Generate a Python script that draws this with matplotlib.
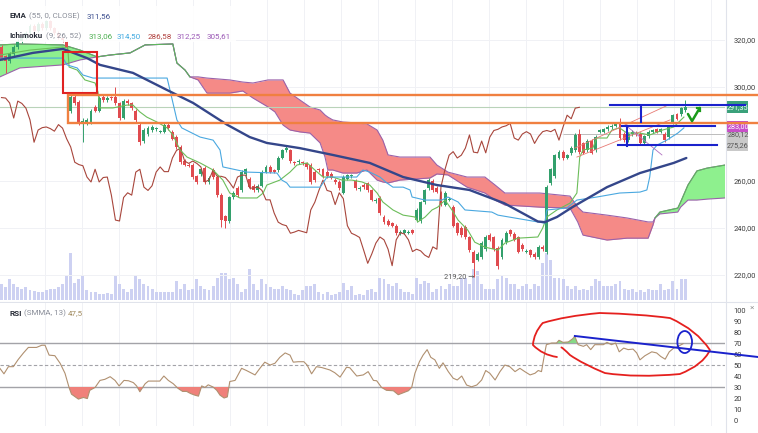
import numpy as np
import matplotlib
matplotlib.use("Agg")
import matplotlib.pyplot as plt
from matplotlib.patches import Rectangle, Ellipse, PathPatch
from matplotlib.path import Path

plt.rcParams['font.family'] = ['Roboto', 'DejaVu Sans']

# ---------------------------------------------------------------- data
opens = [317, 313, 311, 314, 317, 319.5, 321, 323, 326, 324,
         327, 325, 328, 325, 323, 321, 319, 290, 295.7, 293.6,
         285, 284.7, 285, 291.5, 290, 295.7, 294.5, 295.5, 295.7, 293,
         287, 294, 293, 290, 284, 277, 280, 281.5, 282, 281,
         281, 284, 281, 278.7, 274.5, 268.5, 267, 266.8, 262, 263,
         265.5, 259.6, 264.7, 261.7, 254, 245, 243, 253, 257, 256,
         263, 261, 258, 256, 258, 264, 266, 264.5, 264.5, 270,
         273, 273, 268, 268, 268, 267.5, 267, 264, 265, 265,
         264, 263, 260.5, 259.6, 255, 261, 262, 260, 256.5, 258.5,
         259, 256, 251.5, 252.8, 244.7, 243, 242, 241, 237.8, 238,
         238, 239, 243.4, 243, 251, 257, 260, 257, 255, 250,
         252, 249, 242, 240, 240.4, 236, 230, 226.5, 227.7, 231,
         237, 236, 231.5, 227.7, 234, 239, 237.5, 236, 233, 230,
         230.6, 229, 227.7, 232, 230, 259, 262, 270, 272.3, 270,
         271.9, 273.2, 280, 276, 273, 277, 273, 281, 281, 282,
         283, 283.5, 285, 280, 277.5, 280, 280.5, 280, 276, 279,
         281, 282, 281, 280, 278.7, 285, 288.4, 288.4, 290.2]
closes = [312, 311, 314, 317, 319.5, 321, 323, 326, 324, 327,
          325, 328, 325, 323, 321, 320, 316.6, 295.7, 293, 284.7,
          285.5, 286, 290, 290, 295.3, 294.5, 295.5, 295.3, 293.2, 286.8,
          294, 293, 291, 286, 276.5, 281.7, 282.7, 283, 282.3, 281.2,
          284, 282.5, 278, 274.5, 268, 267, 266.5, 261.7, 259.6, 265,
          259.6, 261.5, 261.7, 254, 243.4, 243, 253, 255, 254, 263.8,
          265, 257.4, 256, 258, 263.8, 266, 264, 264, 269.8, 273,
          274, 268.5, 267.5, 268.5, 267.5, 266, 259.6, 260.5, 264.7, 262,
          262, 261.5, 259.5, 257, 261.7, 262.5, 262.5, 257, 257, 257.5,
          256, 252, 252, 246.4, 242.5, 241.5, 241, 237.8, 238.3, 239,
          238.5, 238, 247.7, 251, 256, 260.4, 256, 255.5, 250, 255,
          252.5, 241, 237.8, 237, 236, 230.6, 225, 229, 233.6, 236.2,
          235, 231, 224, 235, 238, 237.5, 235, 230, 231, 230.3,
          228.5, 227.5, 232, 231, 257.5, 265, 271, 272.5, 269.8, 271,
          274, 279.6, 272.3, 272, 277, 272, 278.7, 281.5, 282, 283,
          283.5, 284.5, 278.3, 277.4, 280, 281, 280, 276, 279, 281,
          281.5, 281, 282, 277.4, 283, 288, 286.5, 291, 291.35]
wick_high = {16: 319.5, 17: 296.5, 20: 287.0, 28: 300.0, 134: 258.5,
             142: 282.0, 152: 287.0, 168: 294.5}
wick_low = {1: 306.0, 17: 289.0, 20: 276.6, 34: 275.5, 54: 240.5, 55: 240.0,
            116: 219.2, 122: 222.5, 134: 229.0}
volumes = [15, 12, 20, 15, 12, 11, 12, 10, 9, 8,
           8, 10, 11, 11, 12, 15, 23, 45, 16, 20,
           23, 10, 8, 8, 6, 6, 7, 6, 23, 15,
           11, 8, 11, 23, 20, 15, 13, 11, 8, 8,
           8, 8, 8, 18, 11, 15, 10, 11, 20, 13,
           11, 10, 13, 21, 26, 26, 20, 21, 15, 8,
           11, 30, 15, 10, 20, 15, 12, 11, 11, 13,
           11, 10, 6, 5, 10, 13, 13, 15, 8, 6,
           8, 5, 6, 8, 16, 10, 13, 5, 6, 5,
           10, 11, 8, 21, 20, 15, 13, 16, 11, 8,
           8, 6, 21, 15, 18, 16, 8, 11, 13, 11,
           15, 13, 13, 21, 21, 15, 30, 28, 15, 11,
           11, 11, 20, 23, 21, 15, 15, 11, 13, 15,
           11, 15, 13, 35, 45, 38, 21, 21, 20, 13,
           11, 13, 10, 11, 10, 13, 20, 18, 13, 13,
           13, 15, 18, 11, 10, 11, 8, 10, 8, 11,
           10, 10, 15, 10, 11, 18, 11, 20, 20]

ema_bar = [-0.4, 7.7, 15.1, 21, 24.2, 32.3, 40.7, 47.1, 55.4, 61, 65.2, 73.3, 81.4,
           90.5, 98.7, 107, 115, 123.5, 131.8, 133.5, 136.5, 140.4, 148.8, 156.9, 165.2, 168.3]
ema_val = [311.5, 314.5, 316.2, 312.3, 309.4, 306.0, 298.7, 293.2, 284.0, 278.7, 276.2, 274.0, 271.1,
           267.7, 261.7, 258.3, 256.2, 250.6, 242.8, 242.5, 244.7, 249.0, 257.4, 263.4, 267.7, 269.8]

tenkan_bar = [-0.4, 7, 15, 16.3, 16.6, 18.6, 20.5, 23, 23.7, 24.2,
              27.4, 30.8, 32.3, 34, 35.7, 38.2, 40.7, 42.1, 43.9, 45.6,
              48.8, 52, 54.4, 56.1, 58.6, 62.8, 64.3, 65.2, 68.4, 70.9,
              72.6, 75.1, 77, 79, 81.4, 83.7, 86.1, 88.6, 90.5, 92.3,
              93.7, 96.2, 98.7, 101.6, 102.3, 104.1, 105.8, 107.2, 109, 110.7,
              112.2, 114.6, 116.3, 118.8, 122, 123.7, 126.9, 131.8, 133, 134,
              136.5, 139.7, 141.4, 142.1, 142.9, 145.3, 146.3, 148.8, 150, 151.9,
              153.7, 156.9, 159.3, 162.5, 165.2, 167.7]
tenkan_val = [313.6, 315.7, 317.0, 316.6, 308.5, 307.2, 303.0, 301.7, 297.9, 291.1,
              291.1, 292.3, 292.3, 289.4, 287.2, 285.1, 282.6, 279.6, 273.2, 270.2,
              267.7, 264.7, 260.4, 254.9, 252.8, 252.8, 254.9, 258.3, 260.4, 263.8,
              266.8, 267.7, 264.7, 261.7, 261.7, 260.4, 260.4, 259.6, 258.3, 254.9,
              251.1, 247.7, 245.5, 244.7, 242.6, 244.7, 247.7, 248.9, 251.9, 247.7,
              243.4, 239.1, 234.0, 231.9, 230.6, 233.6, 235.7, 236.2, 240.0, 244.7,
              247.7, 250.6, 254.9, 270.2, 273.2, 274.0, 278.3, 278.3, 281.7, 282.6,
              280.4, 280.4, 279.6, 281.7, 283.0, 287.2]

kijun_bar = [-0.4, 15.1, 16.1, 18.6, 20, 22.5, 40.7, 41.4, 43.1, 44.3,
             48.8, 52, 53.7, 54.4, 60.3, 67.7, 68.9, 70.1, 70.9, 78.3,
             80, 87.3, 88.8, 90.5, 93, 94.7, 96.2, 98.7, 100.4, 100.9,
             104.1, 108.2, 109.7, 112.2, 113.9, 120.5, 122, 131.8, 133.5, 134,
             138.9, 141.4, 146.3, 151.9, 156.9, 158.6, 159.3, 160.1, 161.1, 163.5,
             166.2, 167.7]
kijun_val = [312.3, 312.3, 309.4, 308.1, 305.1, 303.8, 303.8, 298.7, 286.0, 282.6,
             278.7, 277.4, 273.2, 266.0, 263.8, 263.4, 260.4, 259.2, 257.4, 257.4,
             261.7, 261.7, 264.7, 263.8, 261.7, 259.2, 257.4, 257.4, 256.2, 253.2,
             251.9, 251.9, 253.2, 251.1, 247.7, 246.8, 245.5, 242.6, 242.1, 247.7,
             248.5, 251.9, 253.2, 254.9, 255.3, 256.2, 261.7, 273.2, 275.3, 277.4,
             280.4, 282.6]

cloud_bar = [-0.4, 4.5, 15.1, 19.3, 23.5, 26.7, 31.6, 35.3, 42.1, 43.1,
             45.1, 46.3, 48.3, 50.5, 56.1, 59.3, 61.8, 65.5, 67.2, 69.2,
             70.9, 73.3, 75.8, 78.3, 79.5, 80.2, 81.4, 83.9, 87.3, 89.8,
             92.3, 93.7, 95.0, 97.9, 105.3, 107.0, 109.7, 114.4, 118.8, 121.3,
             123.7, 132.3, 139.7, 141.6, 142.9, 148.8, 153.7, 158.9, 160.1, 160.6,
             161.8, 166.2, 166.9, 168.7, 170.9, 173.4, 177.8]
span_a = [317.9, 318.3, 317.9, 315.7, 312.8, 313.6, 314.5, 317.9, 318.3, 310.2,
          307.2, 304.3, 303.0, 297.4, 297.4, 298.3, 295.3, 291.5, 289.4, 283.8,
          281.7, 280.9, 280.4, 276.2, 270.2, 264.7, 264.7, 263.4, 263.4, 264.7,
          260.4, 259.6, 259.2, 260.4, 261.3, 263.0, 262.6, 257.4, 254.9, 251.9,
          249.8, 248.9, 248.5, 242.6, 237.0, 234.9, 235.7, 235.7, 241.3, 244.3,
          246.8, 248.5, 251.1, 258.3, 264.3, 265.5, 266.8]
span_b = [304.3, 308.1, 309.4, 311.5, 312.8, 313.6, 314.5, 317.9, 318.3, 310.2,
          307.2, 304.3, 304.3, 303.8, 303.0, 302.1, 301.7, 303.0, 303.0, 303.0,
          297.4, 294.5, 291.5, 290.2, 288.1, 287.2, 286.0, 285.1, 284.7, 284.3,
          281.7, 277.4, 271.1, 270.2, 270.2, 266.8, 263.8, 261.7, 261.7, 258.3,
          254.9, 254.9, 253.6, 248.9, 246.8, 245.5, 244.3, 242.6, 242.6, 244.3,
          246.0, 246.8, 248.9, 251.9, 251.9, 252.3, 252.8]
chikou_shift = 26

rsi_bar = [-0.4, 0.6, 1.7, 2.9, 4.1, 5.4, 6.6, 8.6, 9.9, 10.7,
           11.7, 13.1, 14.4, 15.6, 16.6, 17.2, 18.9, 20.1, 21.1, 21.7,
           23.0, 24.2, 25.4, 26.7, 27.9, 28.9, 30.1, 31.2, 32.4, 33.2,
           34.0, 35.3, 36.1, 37.3, 38.9, 39.9, 41.0, 42.2, 43.4, 44.5,
           45.5, 46.5, 47.5, 48.4, 49.2, 50.0, 50.8, 52.0, 52.9, 53.7,
           54.7, 55.5, 56.1, 57.4, 59.0, 60.2, 62.3, 63.5, 64.7, 66.0,
           67.2, 68.4, 69.7, 70.9, 71.7, 72.9, 74.3, 75.1, 76.2, 77.4,
           78.7, 80.7, 81.9, 83.2, 84.8, 85.6, 87.3, 88.9, 90.1, 91.4,
           92.2, 93.4, 94.6, 96.3, 97.5, 98.7, 100.0, 100.8, 101.6, 102.7,
           103.6, 104.6, 105.5, 106.5, 107.6, 108.5, 109.8, 111.0, 112.0, 113.1,
           114.3, 115.5, 116.8, 118.0, 119.0, 120.0, 121.3, 122.5, 123.7, 124.9,
           126.2, 127.4, 128.6, 129.9, 131.1, 131.9, 132.7, 133.5, 133.9, 135.2,
           136.4, 137.0, 138.0, 139.3, 140.3, 140.9, 141.7, 143.0, 143.8, 144.8,
           145.8, 147.9, 148.8, 149.9, 150.9, 151.8, 152.9, 154.0, 155.2, 156.1,
           156.9, 158.1, 159.8, 161.0, 162.0, 163.1, 164.1, 165.2, 166.3, 167.5]
rsi_val = [47, 42, 48.5, 48.5, 55, 61, 66, 66, 68, 68,
           59, 58.5, 51.6, 42.5, 29.6, 23.5, 19, 20.5, 19.5, 27,
           29.6, 36, 37, 39.4, 36, 31, 36, 35.7, 34, 31,
           25.7, 33, 35.4, 35.4, 35.4, 40, 36, 33, 28.7, 26,
           26, 24, 22.6, 21.7, 31, 29.6, 32, 30, 27, 22.6,
           20, 21, 35, 36, 47, 45, 41, 47, 52.6, 50,
           51.6, 57, 61, 59, 52.6, 53, 53, 50, 42, 48.5,
           47.7, 45.5, 43, 39, 48, 47.5, 40, 41, 44, 36,
           35.7, 29.6, 27, 26.6, 23, 24.7, 26.6, 29.6, 42.5, 53,
           59, 64, 57, 54.7, 47, 52, 44, 38, 36.4, 40,
           31.8, 30.2, 31.8, 36.4, 45, 42.5, 36.4, 44, 50, 48.5,
           44, 47, 44, 41, 42.5, 45, 44, 61, 68.5, 70,
           70, 72.5, 70.6, 71, 73.7, 76, 68.5, 67, 68.5, 64,
           68.5, 68.5, 70.6, 68.5, 70, 62, 65.4, 64, 64.5, 61,
           54.7, 58.4, 62, 61, 57.8, 55.3, 62, 65.4, 67, 69.4]

price_ticks = [220, 240, 260, 300, 320]
price_tick_labels = ['220,00', '240,00', '260,00', '300,00', '320,00']
grid_prices = [220, 240, 260, 280, 300, 320]
rsi_ticks = [0, 10, 20, 30, 40, 50, 60, 70, 80, 90, 100]
rsi_levels = [30, 50, 70]
tag_last = (291.35, '291,35')
tag_magenta = (283.00, '283,00')
tag_grey = [(280.12, '280,12'), (275.26, '275,26')]
low_label = (219.20, '219,20 →')

legend_ema = ['EMA', '(55, 0, CLOSE)', '311,56']
legend_ichi = ['Ichimoku', '(9, 26, 52)', '313,06', '314,50', '286,58', '312,25', '305,61']
legend_rsi = ['RSI', '(SMMA, 13)', '47,5']

# hand-drawn annotations (data coordinates)
red_box = ([15.1, 23.5], [297.4, 314.9])
orange_box = ([16.3, 185.9], [284.7, 296.6])
blue_h = [([149.5, 182.7], 292.3), ([152.5, 175.3], 283.4), ([151.5, 175.8], 275.3)]
blue_v = [(157.1, 285.1, 291.9), (153.7, 274.9, 283.4)]
channel_lines = [([140.9, 163.8], [274.0, 292.3]), ([141.4, 164.3], [270.2, 286.0])]
purple_diag = ([153.9, 162.3], [283.0, 271.1])
check_x = [168.7, 169.7, 171.6]
check_y = [288.5, 285.5, 291.1]
rsi_loop_x = [136.5, 133.0, 130.6, 130.8, 133.0, 138.5, 147.0, 156.9, 164.3, 170.9,
              174.1, 172.4, 166.7, 156.1, 148.3, 142.9, 139.7, 138.0, 137.6]
rsi_loop_y = [57.3, 59.1, 68.2, 79.1, 88.2, 94.5, 97.3, 96.4, 92.7, 81.8,
              63.6, 50.0, 41.8, 38.2, 42.7, 50.9, 59.1, 65.5, 66.0]
rsi_blue_line = ([140.9, 185.9], [76.4, 57.3])
rsi_blue_ellipse = (167.9, 70.9, 3.6, 20)

# ---------------------------------------------------------------- styling
W, H = 758, 433
XLIM = (-0.37, 177.8)
PLIM = (209.4, 337.0)
RLIM = (-5.45, 106.4)
UP, DN = '#33a06c', '#e04b4f'
GRID = '#f0f1f5'


def fx(px):
    return px / W


def fy(py):
    return 1 - py / H


fig = plt.figure(figsize=(W / 100, H / 100), dpi=100)
fig.patch.set_facecolor('white')

ax_v = fig.add_axes([0, fy(300), fx(725), 300 / H])
ax = fig.add_axes([0, fy(300), fx(725), 300 / H])
ax_r = fig.add_axes([0, fy(426), fx(725), 123 / H])
ax_v.set_zorder(1)
ax.set_zorder(2)
ax_r.set_zorder(2)
ax.patch.set_visible(False)

for a in (ax_v, ax, ax_r):
    a.set_xlim(*XLIM)
    for s in a.spines.values():
        s.set_visible(False)
    a.set_xticks([])

vgrid = np.arange(10.7, 178, 9.09)
for g in vgrid:
    ax_v.axvline(g, color=GRID, lw=0.7, zorder=0)
    ax_r.axvline(g, color=GRID, lw=0.7, zorder=0)

# ---- volume
xb = np.arange(len(closes))
o = np.array(opens, float)
c = np.array(closes, float)
ax_v.bar(xb, volumes, width=0.72, bottom=0, color='#cdd1f2', linewidth=0, zorder=1)
ax_v.set_ylim(0, 287)
ax_v.set_yticks([])

# ---- main price pane
ax.set_ylim(*PLIM)
for p in grid_prices:
    ax.axhline(p, color=GRID, lw=0.7, zorder=0)

cb = np.array(cloud_bar)
sa = np.array(span_a)
sb = np.array(span_b)
ax.fill_between(cb, sa, sb, where=sa >= sb, interpolate=True, color='#8ef08e', lw=0, zorder=2)
ax.fill_between(cb, sa, sb, where=sa < sb, interpolate=True, color='#f58a87', lw=0, zorder=2)
ax.plot(cb, sb, color='#9a62aa', lw=0.8, zorder=2.5)
ax.plot(cb, sa, color='#9a62aa', lw=0.8, zorder=2.5)
sa_green = np.ma.masked_where(sa < sb, sa)
ax.plot(cb, sa_green, color='#5cb85c', lw=0.8, zorder=2.6)

# candles
body_lo = np.minimum(o, c)
body_hi = np.maximum(o, c)
hi = body_hi + 0.7
lo = body_lo - 0.7
for k, v in wick_high.items():
    hi[k] = v
for k, v in wick_low.items():
    lo[k] = v
cols = [UP if cc >= oo else DN for oo, cc in zip(o, c)]
ax.vlines(xb, lo, hi, colors=cols, lw=0.7, zorder=3)
ax.bar(xb, np.maximum(body_hi - body_lo, 0.45), bottom=body_lo, width=0.72,
       color=cols, linewidth=0, zorder=3.5)

# indicator lines
ax.plot(xb[:-chikou_shift], c[chikou_shift:], color='#a8463c', lw=0.8, zorder=4)
ax.plot(tenkan_bar, tenkan_val, color='#6cbd5a', lw=0.8, zorder=4)
ax.plot(kijun_bar, kijun_val, color='#4aa8e0', lw=0.8, zorder=4)
ax.plot(ema_bar, ema_val, color='#34468a', lw=1.7, zorder=4.5, solid_capstyle='round',
        solid_joinstyle='round')

# price reference lines
ax.axhline(tag_last[0], color='#b9d3b9', lw=0.8, zorder=2.8)
ax.hlines(tag_grey[0][0], 138, XLIM[1], color='#bdbdbd', lw=0.7, zorder=2.8)

# annotations
ax.add_patch(Rectangle((red_box[0][0], red_box[1][0]), red_box[0][1] - red_box[0][0],
                       red_box[1][1] - red_box[1][0], fill=False, ec='#e02222', lw=1.5, zorder=6))
ox, oy = orange_box
ax.plot([ox[1], ox[0], ox[0], ox[1]], [oy[1], oy[1], oy[0], oy[0]], color='#f08040',
        lw=1.7, zorder=6, clip_on=False, solid_joinstyle='miter')
for (xs, yv) in blue_h:
    ax.plot(xs, [yv, yv], color='#1a22cc', lw=1.5, zorder=7, clip_on=False)
for (xv, y0, y1) in blue_v:
    ax.plot([xv, xv], [y0, y1], color='#1a22cc', lw=1.5, zorder=7, clip_on=False)
for (xs, ys) in channel_lines:
    ax.plot(xs, ys, color='#e77a74', lw=0.6, zorder=5)
ax.plot(purple_diag[0], purple_diag[1], color='#b070c0', lw=0.6, zorder=5)
ax.plot(check_x, check_y, color='#1a9a1a', lw=1.8, zorder=7, solid_capstyle='round',
        solid_joinstyle='round')
ax.plot([check_x[2] - 0.8, check_x[2], check_x[2]], [check_y[2], check_y[2], check_y[2] - 1.4],
        color='#1a9a1a', lw=1.6, zorder=7)

ax.text(116.2, low_label[0], low_label[1], ha='right', va='center', fontsize=5.3,
        color='#555555', zorder=8)

ax.yaxis.tick_right()
ax.set_yticks(price_ticks)
ax.set_yticklabels(price_tick_labels)
ax.tick_params(axis='y', length=0, pad=6, labelsize=5.4, colors='#3c3c3c')

# ---- RSI pane
ax_r.set_ylim(*RLIM)
rb = np.array(rsi_bar)
rv = np.array(rsi_val)
ax_r.fill_between(rb, rv, 30, where=rv < 30, interpolate=True, color='#f0807a', lw=0, zorder=2)
ax_r.fill_between(rb, rv, 70, where=rv > 70, interpolate=True, color='#86d986', lw=0, zorder=2)
ax_r.axhline(rsi_levels[2], color='#a3a3a8', lw=1.0, zorder=1)
ax_r.axhline(rsi_levels[0], color='#a3a3a8', lw=1.0, zorder=1)
ax_r.axhline(rsi_levels[1], color='#a3a3a8', lw=0.8, ls=(0, (3, 2)), zorder=1)
ax_r.plot(rb, rv, color='#b09070', lw=0.8, zorder=3)

# smooth hand-drawn loop (quadratic Bezier through the sketch control points)
loop_pts = list(zip(rsi_loop_x, rsi_loop_y))
codes = [Path.MOVETO] + [Path.CURVE3] * (len(loop_pts) - 1)
ax_r.add_patch(PathPatch(Path(loop_pts, codes), fill=False, ec='#e5201e', lw=1.3,
                         zorder=5, clip_on=False, capstyle='round', joinstyle='round'))
ax_r.plot(rsi_blue_line[0], rsi_blue_line[1], color='#1a22cc', lw=1.4, zorder=5, clip_on=False)
ex, ey, ew, eh = rsi_blue_ellipse
ax_r.add_patch(Ellipse((ex, ey), ew, eh, fill=False, ec='#1a22cc', lw=1.3, zorder=6))
ax_r.yaxis.tick_right()
ax_r.set_yticks(rsi_ticks)
ax_r.set_yticklabels([str(t) for t in rsi_ticks])
ax_r.tick_params(axis='y', length=0, pad=6, labelsize=5.4, colors='#3c3c3c')

# ---------------------------------------------------------------- figure-level decorations
fig.add_artist(plt.Line2D([0, 1], [fy(301.5), fy(301.5)], color='#e0e3eb', lw=0.8, zorder=0.6))
fig.add_artist(plt.Line2D([fx(725.5), fx(725.5)], [0, 1], color='#e0e3eb', lw=0.8, zorder=0.6))


def tag(y_center, h, color):
    fig.add_artist(Rectangle((fx(727), fy(y_center + h / 2)), 21 / W, h / H,
                             transform=fig.transFigure, fc=color, ec='none', zorder=0.5))


def price_to_py(p):
    return (PLIM[1] - p) / (PLIM[1] - PLIM[0]) * 300


py_last = price_to_py(tag_last[0])
py_mag = price_to_py(tag_magenta[0])
py_g1 = price_to_py(tag_grey[0][0])
py_g2 = price_to_py(tag_grey[1][0])
tag(py_last, 12, '#3aa17a')
fig.text(fx(738), fy(py_last), tag_last[1], ha='center', va='center', fontsize=5.2,
         color='white', zorder=1)
tag((py_g1 + py_g2) / 2 + 1, 21, '#c9c9c9')
fig.text(fx(738), fy(py_g1 + 0.5), tag_grey[0][1], ha='center', va='center', fontsize=5.2,
         color='#555555', zorder=1)
fig.text(fx(738), fy(py_g2 + 0.5), tag_grey[1][1], ha='center', va='center', fontsize=5.2,
         color='#555555', zorder=1)
tag(py_mag - 0.5, 11, '#c84fc8')
fig.text(fx(738), fy(py_mag - 0.5), tag_magenta[1], ha='center', va='center', fontsize=5.2,
         color='white', zorder=1)

# legend
fig.add_artist(Rectangle((fx(3), fy(42)), 233 / W, 36 / H, transform=fig.transFigure,
                         fc='white', ec='none', alpha=0.88, zorder=3))
ema_pos = [9, 29, 87]
ema_col = ['#2a2e39', '#8a8e99', '#3d4f8f']
for t, xp, col in zip(legend_ema, ema_pos, ema_col):
    fig.text(fx(xp), fy(16), t, va='center', fontsize=5.8, color=col, zorder=4,
             fontweight='bold' if t == 'EMA' else 'normal')
ichi_pos = [9, 46, 89, 117, 148, 177, 207]
ichi_col = ['#2a2e39', '#8a8e99', '#4caf50', '#3fa9e0', '#b0413e', '#9b59b6', '#9b59b6']
for t, xp, col in zip(legend_ichi, ichi_pos, ichi_col):
    fig.text(fx(xp), fy(36), t, va='center', fontsize=5.8, color=col, zorder=4,
             fontweight='bold' if t == 'Ichimoku' else 'normal')
rsi_pos = [9, 24, 68]
rsi_col = ['#2a2e39', '#8a8e99', '#a08a5e']
for t, xp, col in zip(legend_rsi, rsi_pos, rsi_col):
    fig.text(fx(xp), fy(313), t, va='center', fontsize=5.8, color=col, zorder=4,
             fontweight='bold' if t == 'RSI' else 'normal')
fig.text(fx(752), fy(308), '×', ha='center', va='center', fontsize=6, color='#9a9a9a', zorder=4)

fig.savefig('out.png', dpi=100, facecolor='white')
